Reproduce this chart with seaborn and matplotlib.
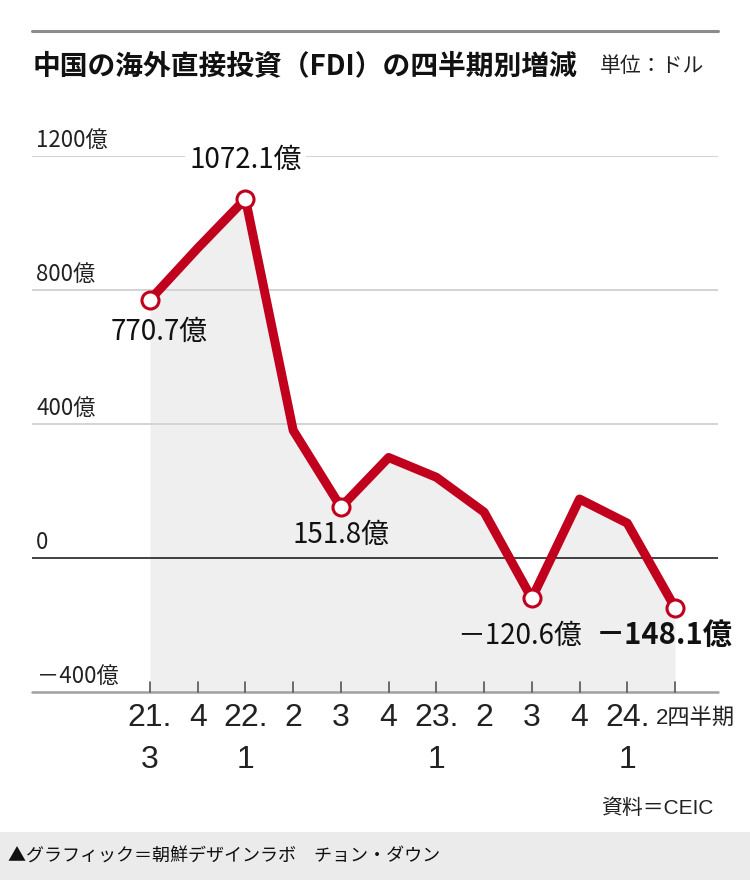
import numpy as np
import pandas as pd
import matplotlib
matplotlib.use('Agg')
import matplotlib.pyplot as plt
import seaborn as sns
from matplotlib import transforms
from matplotlib.patches import Rectangle
from matplotlib.lines import Line2D

# Quarterly change of China's FDI (100 million USD units)
quarters = ['21.3', '21.4', '22.1', '22.2', '22.3', '22.4',
            '23.1', '23.2', '23.3', '23.4', '24.1', '24.2']
fdi = [770.7, 925, 1072.1, 381, 151.8, 300, 241, 137, -120.6, 176, 104, -148.1]

tick_top = ['21.', '4', '22.', '2', '3', '4', '23.', '2', '3', '4', '24.', '']
tick_bottom = ['3', '', '1', '', '', '', '1', '', '', '', '1', '']
last_tick = '2四半期'

y_ticks = [-400, 0, 400, 800, 1200]
y_tick_labels = ['－400億', '0', '400億', '800億', '1200億']

labelled = ['21.3', '22.1', '22.3', '23.3', '24.2']
label_texts = ['770.7億', '1072.1億', '151.8億', '－120.6億', '－148.1億']

title = '中国の海外直接投資（FDI）の四半期別増減'
unit = '単位：ドル'
source = '資料＝CEIC'
credit = '▲グラフィック＝朝鮮デザインラボ　チョン・ダウン'

sns.set_theme(style='white')
plt.rcParams['font.family'] = ['Noto Sans CJK JP', 'DejaVu Sans']

df = pd.DataFrame({'quarter': quarters, 'fdi': fdi})
df['pos'] = np.arange(len(df))
marks = df[df['quarter'].isin(labelled)]

RED = '#c0001c'
W, H = 750, 880
fig = plt.figure(figsize=(7.5, 8.8), dpi=100)

# axes box in pixels: left 32, right 718, y -400 at 692, 1200 at 156
ax = fig.add_axes([32 / W, 1 - 692 / H, 686 / W, (692 - 156) / H])
step = 525 / 11
ax.set_xlim(-(150 - 32) / step, 11 + (718 - 675) / step)
ax.set_ylim(-400, 1200)
for s in ax.spines.values():
    s.set_visible(False)
ax.set_xticks([])
ax.set_yticks([])
ax.patch.set_alpha(0)

# grey area under the line
ax.fill_between(df['pos'], df['fdi'], -400, color='#efefef', lw=0, zorder=1)

# gridlines
for v in [400, 800, 1200]:
    ax.axhline(v, color='#d0d0d0', lw=1.3, zorder=2)
ax.axhline(0, color='#222222', lw=1.2, zorder=2)
ax.axhline(-400, color='#a0a0a0', lw=1.8, zorder=3, clip_on=False)

# y labels above the gridlines
ytrans = transforms.blended_transform_factory(ax.transAxes, ax.transData)
for v, lab in zip(y_ticks, y_tick_labels):
    xo = 0.006 if v != -400 else 0.008
    ax.text(xo, v + 12, lab, transform=ytrans, ha='left', va='bottom',
            fontsize=16, color='#222222', zorder=4)

# line and markers
sns.lineplot(data=df, x='pos', y='fdi', ax=ax, color=RED, lw=6.5,
             solid_joinstyle='round', solid_capstyle='round', zorder=5)
sns.scatterplot(data=marks, x='pos', y='fdi', ax=ax, s=150, color='white',
                edgecolor=RED, linewidth=2.2, zorder=6)
ax.set_xlabel('')
ax.set_ylabel('')

# value labels
offsets = [(6.5, -23), (0, 28), (0, -20), (-9, -27), (-8, -20)]
for (_, r), txt, off in zip(marks.iterrows(), label_texts, offsets):
    bold = txt == label_texts[-1]
    kw = {}
    if txt == '1072.1億':
        kw['bbox'] = dict(boxstyle='square,pad=0.15', fc='white', ec='none')
    ax.annotate(txt, (r['pos'], r['fdi']), xytext=off, textcoords='offset points',
                ha='center', va='center', fontsize=20 if not bold else 21,
                fontweight='bold' if bold else 'normal', color='#111111',
                zorder=7, **kw)

# x ticks (short, pointing up from the base line)
for p in df['pos']:
    ax.plot([p, p], [-400, -400 + 10 / 0.336], color='#555555', lw=1.2,
            zorder=4, clip_on=False)

xtrans = transforms.blended_transform_factory(ax.transData, fig.transFigure)
tick_font = ['Liberation Sans', 'Noto Sans CJK JP']
for p, t1, t2 in zip(df['pos'], tick_top, tick_bottom):
    if t1:
        ax.text(p, 1 - 718 / H, t1, transform=xtrans, ha='center', va='center',
                fontsize=23, family=tick_font, color='#222222')
    if t2:
        ax.text(p, 1 - 760 / H, t2, transform=xtrans, ha='center', va='center',
                fontsize=23, family=tick_font, color='#222222')
ax.text(df['pos'].iloc[-1], 1 - 718 / H, last_tick,
        transform=transforms.offset_copy(xtrans, fig=fig, x=-19, units='dots'),
        ha='left', va='center', fontsize=16, family=tick_font, color='#222222')

# title block
fig.add_artist(Line2D([32 / W, 718 / W], [1 - 31 / H, 1 - 31 / H],
                      color='#8c8c8c', lw=2.2))
fig.text(33 / W, 1 - 66 / H, title, ha='left', va='center', fontsize=20,
         fontweight='bold', color='#111111')
fig.text(600 / W, 1 - 66 / H, unit, ha='left', va='center', fontsize=15,
         color='#222222')

# source and footer band
fig.text(713 / W, 1 - 808 / H, source, ha='right', va='center', fontsize=15,
         family=tick_font, color='#222222')
fig.patches.append(Rectangle((0, 0), 1, 48 / H, transform=fig.transFigure,
                             facecolor='#ebebeb', edgecolor='none', zorder=0))
fig.text(8 / W, 1 - 857 / H, credit, ha='left', va='center', fontsize=13,
         color='#111111')

fig.savefig('out.png', dpi=100)
